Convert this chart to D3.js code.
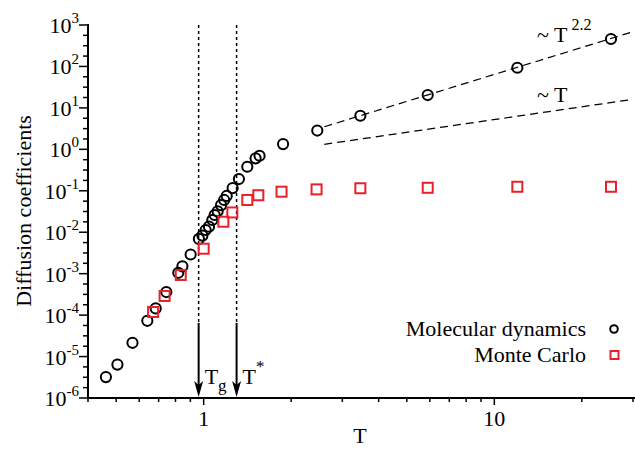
<!DOCTYPE html>
<html>
<head>
<meta charset="utf-8">
<script src="https://cdn.jsdelivr.net/npm/d3@7"></script>
<style>
  body { margin: 0; background: #fff; }
  text { font-family: "Liberation Serif", "DejaVu Serif", serif; fill: #000; }
</style>
</head>
<body>
<div id="chart"></div>
<script>
// Molecular dynamics (circles)
const mdT = [0.461, 0.505, 0.569, 0.640, 0.684, 0.744, 0.818, 0.845, 0.902, 0.963,
             0.990, 1.016, 1.043, 1.071, 1.091, 1.117, 1.148, 1.176, 1.200, 1.258,
             1.322, 1.413, 1.509, 1.557, 1.876, 2.46, 3.46, 5.90, 12.0, 25.2];
const mdD = [3.2e-6, 6.4e-6, 2.15e-5, 7.3e-5, 1.45e-4, 3.6e-4, 1.05e-3, 1.5e-3, 2.9e-3, 6.9e-3,
             8.3e-3, 1.13e-2, 1.36e-2, 1.97e-2, 2.6e-2, 3.2e-2, 4.5e-2, 6.0e-2, 7.5e-2, 0.116,
             0.192, 0.38, 0.607, 0.70, 1.34, 2.84, 6.47, 20.4, 93, 459];

// Monte Carlo (squares)
const mcT = [0.670, 0.734, 0.834, 1.0, 1.169, 1.255, 1.413, 1.542, 1.853, 2.446, 3.46, 5.90, 12.0, 25.2];
const mcD = [1.19e-4, 2.9e-4, 9.3e-4, 4.0e-3, 1.79e-2, 3.0e-2, 6.0e-2, 7.8e-2, 9.5e-2, 0.108, 0.115, 0.118, 0.125, 0.125];

// guide lines (end points)
const fit22T = [2.6, 30], fit22D = [3.5, 690];
const fit1T = [2.6, 30], fit1D = [1.32, 16.1];

// marked temperatures
const markT = [0.961, 1.298];
const markLabels = [["T", "g", "sub"], ["T", "*", "sup"]];

// ticks
const yMajor = [-6, -5, -4, -3, -2, -1, 0, 1, 2, 3];
const xMajor = [1, 10];
const xMinor = [0.4, 0.5, 0.6, 0.7, 0.8, 0.9, 2, 3, 4, 5, 6, 7, 8, 9, 20, 30];

const legendNames = ["Molecular dynamics", "Monte Carlo"];

const width = 635, height = 450;
const red = "#e8202a";

const svg = d3.select("#chart").append("svg")
    .attr("width", width)
    .attr("height", height);

const x = d3.scaleLog().domain([0.4, 30]).range([88, 633]);
const y = d3.scaleLog().domain([1e-6, 1e3]).range([398, 25]);

// y minor ticks: evenly spaced in log, 3 per decade
let yMinor = [];
yMajor.forEach(e => {
    if (e < 3) [0.25, 0.5, 0.75].forEach(f => yMinor.push(Math.pow(10, e + f)));
});

// Axes
const xAxis = svg.append("g").attr("transform", `translate(0, ${y(1e-6)})`);
xAxis.append("line").attr("x1", 88).attr("x2", 635).attr("stroke", "#000").attr("stroke-width", 2);
xAxis.selectAll(".xmin").data(xMinor).enter().append("line")
    .attr("x1", d => x(d)).attr("x2", d => x(d))
    .attr("y1", 0).attr("y2", 4)
    .attr("stroke", "#000").attr("stroke-width", 1.5);
xAxis.selectAll(".xmaj").data(xMajor).enter().append("line")
    .attr("x1", d => x(d)).attr("x2", d => x(d))
    .attr("y1", 0).attr("y2", 7)
    .attr("stroke", "#000").attr("stroke-width", 1.5);
xAxis.selectAll(".xlab").data(xMajor).enter().append("text")
    .attr("x", d => x(d)).attr("y", 28)
    .attr("text-anchor", "middle")
    .attr("font-size", 22)
    .text(d => d);

svg.append("text")
    .attr("x", 360).attr("y", 443)
    .attr("text-anchor", "middle")
    .attr("font-size", 22)
    .text("T");

const yAxis = svg.append("g").attr("transform", `translate(${x(0.4)}, 0)`);
yAxis.append("line").attr("y1", 24).attr("y2", 399).attr("stroke", "#000").attr("stroke-width", 2);
yAxis.selectAll(".ymin").data(yMinor).enter().append("line")
    .attr("y1", d => y(d)).attr("y2", d => y(d))
    .attr("x1", 0).attr("x2", -5)
    .attr("stroke", "#000").attr("stroke-width", 1.5);
yAxis.selectAll(".ymaj").data(yMajor).enter().append("line")
    .attr("y1", d => y(Math.pow(10, d))).attr("y2", d => y(Math.pow(10, d)))
    .attr("x1", 0).attr("x2", -9)
    .attr("stroke", "#000").attr("stroke-width", 1.5);
const ylab = yAxis.selectAll(".ylab").data(yMajor).enter().append("text")
    .attr("x", -9).attr("y", d => y(Math.pow(10, d)) + 8)
    .attr("text-anchor", "end")
    .attr("font-size", 22);
ylab.append("tspan").text("10");
ylab.append("tspan").attr("dy", -10).attr("font-size", 15).text(d => d < 0 ? "-" + (-d) : d);

svg.append("text")
    .attr("transform", "translate(31, 211) rotate(-90)")
    .attr("text-anchor", "middle")
    .attr("font-size", 22)
    .text("Diffusion coefficients");

// Marked temperatures: dotted lines + arrows
svg.selectAll(".mark").data(markT).enter().append("line")
    .attr("x1", d => x(d)).attr("x2", d => x(d))
    .attr("y1", 25).attr("y2", 325)
    .attr("stroke", "#000").attr("stroke-width", 1.5)
    .attr("stroke-dasharray", "3,3");
svg.selectAll(".arrow").data(markT).enter().append("line")
    .attr("x1", d => x(d)).attr("x2", d => x(d))
    .attr("y1", 323).attr("y2", 388)
    .attr("stroke", "#000").attr("stroke-width", 2);
svg.selectAll(".head").data(markT).enter().append("path")
    .attr("d", d => `M${x(d) - 4.5},381 L${x(d)},397 L${x(d) + 4.5},381 L${x(d)},385 Z`)
    .attr("fill", "#000");
const ml = svg.selectAll(".mlab").data(markT).enter().append("text")
    .attr("x", d => x(d) + 6).attr("y", 384)
    .attr("font-size", 22);
ml.append("tspan").text((d, i) => markLabels[i][0]);
ml.append("tspan")
    .attr("dy", (d, i) => markLabels[i][2] === "sub" ? 7 : -12)
    .attr("font-size", 17)
    .text((d, i) => markLabels[i][1]);

// Guide lines
const line = d3.line().x(d => x(d[0])).y(d => y(d[1]));
[[fit22T, fit22D], [fit1T, fit1D]].forEach(f => {
    svg.append("path")
        .attr("d", line(f[0].map((t, i) => [t, f[1][i]])))
        .attr("fill", "none")
        .attr("stroke", "#000")
        .attr("stroke-width", 1.2)
        .attr("stroke-dasharray", "8,5");
});
const g1 = svg.append("text").attr("x", 537).attr("y", 42).attr("font-size", 22);
g1.append("tspan").text("~ T");
g1.append("tspan").attr("dx", 4).attr("dy", -12).attr("font-size", 16).text("2.2");
svg.append("text").attr("x", 537).attr("y", 102).attr("font-size", 22).text("~ T");

// Data points
svg.selectAll(".md").data(mdT).enter().append("circle")
    .attr("cx", d => x(d))
    .attr("cy", (d, i) => y(mdD[i]))
    .attr("r", 5.1)
    .attr("fill", "none")
    .attr("stroke", "#000")
    .attr("stroke-width", 2);

const sq = 10;
svg.selectAll(".mc").data(mcT).enter().append("rect")
    .attr("x", d => x(d) - sq / 2)
    .attr("y", (d, i) => y(mcD[i]) - sq / 2)
    .attr("width", sq).attr("height", sq)
    .attr("fill", "none")
    .attr("stroke", red)
    .attr("stroke-width", 2);

// Legend
svg.append("text").attr("x", 586).attr("y", 336).attr("text-anchor", "end").attr("font-size", 22).text(legendNames[0]);
svg.append("text").attr("x", 586).attr("y", 362).attr("text-anchor", "end").attr("font-size", 22).text(legendNames[1]);
svg.append("circle").attr("cx", 614).attr("cy", 329).attr("r", 3.8)
    .attr("fill", "none").attr("stroke", "#000").attr("stroke-width", 2);
svg.append("rect").attr("x", 610.5).attr("y", 351).attr("width", 8).attr("height", 8)
    .attr("fill", "none").attr("stroke", red).attr("stroke-width", 2);
</script>
</body>
</html>
